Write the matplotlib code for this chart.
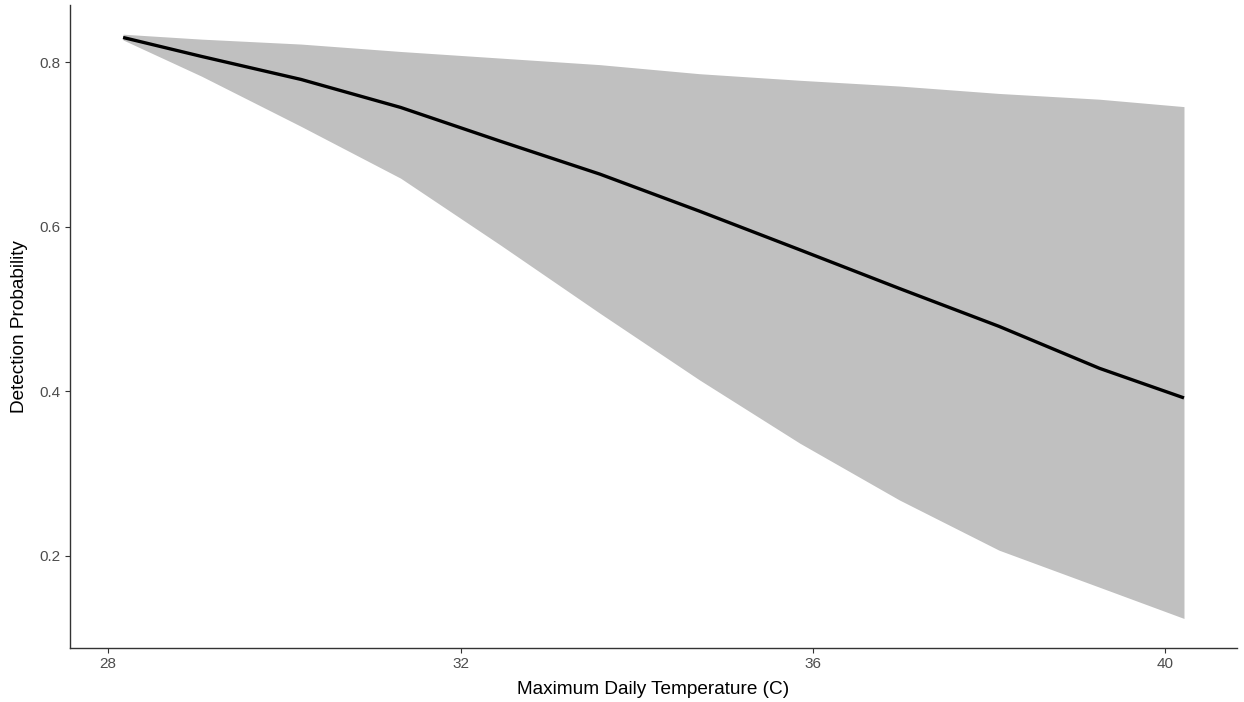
import numpy as np
import matplotlib
matplotlib.use("Agg")
import matplotlib.pyplot as plt

plt.rcParams['font.family'] = ['Liberation Sans', 'DejaVu Sans']

# values
temp = [28.17, 29.06, 30.19, 31.32, 32.45, 33.58, 34.71, 35.85, 36.98, 38.11, 39.25, 40.21]
prob = [0.830, 0.807, 0.779, 0.745, 0.704, 0.664, 0.619, 0.572, 0.525, 0.479, 0.428, 0.392]
upper = [0.834, 0.828, 0.822, 0.813, 0.805, 0.797, 0.786, 0.778, 0.771, 0.762, 0.755, 0.746]
lower = [0.827, 0.783, 0.722, 0.659, 0.578, 0.495, 0.414, 0.337, 0.268, 0.207, 0.162, 0.124]

xticks = [28, 32, 36, 40]
yticks = [0.2, 0.4, 0.6, 0.8]

fig = plt.figure(figsize=(12.44, 7.02), dpi=100)
ax = fig.add_axes([0.0563, 0.0774, 0.9381, 0.9155])

ax.fill_between(temp, lower, upper, color='#C0C0C0', linewidth=0)
ax.plot(temp, prob, color='black', linewidth=2.4, solid_capstyle='butt')

# ggplot style 5% expansion
xr = temp[-1] - temp[0]
ax.set_xlim(temp[0] - 0.05 * xr, temp[-1] + 0.05 * xr)
yr = max(upper) - min(lower)
ax.set_ylim(min(lower) - 0.05 * yr, max(upper) + 0.05 * yr)

ax.set_xticks(xticks)
ax.set_xticklabels([str(t) for t in xticks])
ax.set_yticks(yticks)
ax.set_yticklabels([str(t) for t in yticks])

for s in ['top', 'right']:
    ax.spines[s].set_visible(False)
for s in ['left', 'bottom']:
    ax.spines[s].set_color('#333333')
    ax.spines[s].set_linewidth(1.0)

ax.tick_params(axis='both', length=3.6, width=0.8, color='#333333',
               labelcolor='#4D4D4D', labelsize=11, pad=3)

ax.set_xlabel('Maximum Daily Temperature (C)', fontsize=13.7, color='black', va='center')
ax.set_ylabel('Detection Probability', fontsize=13.7, color='black', va='center')
ax.xaxis.set_label_coords(0.5, -0.0658)
ax.yaxis.set_label_coords(-0.0433, 0.5)

fig.savefig('out.png', dpi=100)
